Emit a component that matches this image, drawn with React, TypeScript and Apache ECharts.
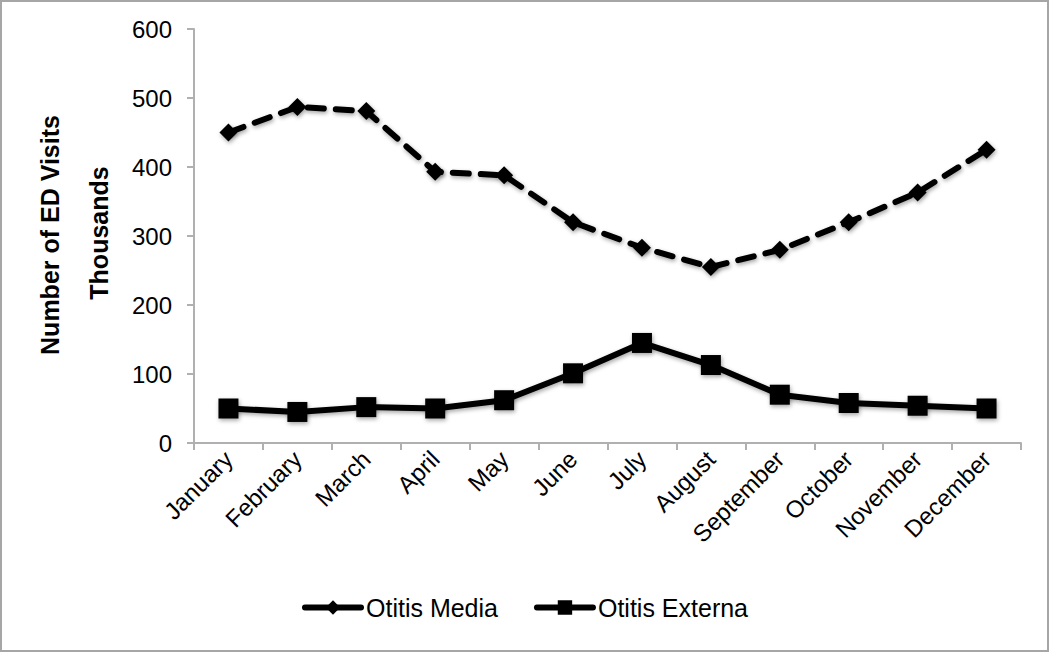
import React, { useEffect, useRef } from "react";
import * as echarts from "echarts";

const months = ["January", "February", "March", "April", "May", "June", "July", "August", "September", "October", "November", "December"];
const otitisMedia = [450, 487, 481, 393, 388, 320, 283, 255, 280, 320, 363, 425];
const otitisExterna = [50, 45, 52, 50, 62, 101, 145, 113, 70, 58, 54, 50];
const yTicks = { min: 0, max: 600, interval: 100 };

export default function App() {
  const ref = useRef<HTMLDivElement>(null);
  useEffect(() => {
    if (!ref.current) return;
    const chart = echarts.init(ref.current, null, { renderer: "svg" });
    const font = "'Liberation Sans', Arial, sans-serif";
    const shadow = { shadowBlur: 4, shadowColor: "rgba(0,0,0,0.35)", shadowOffsetX: 1, shadowOffsetY: 2 };
    chart.setOption({
      animation: false,
      backgroundColor: "#fff",
      textStyle: { fontFamily: font },
      grid: { left: 194, right: 29, top: 29, bottom: 210, containLabel: false },
      graphic: [
        { type: "rect", shape: { x: 1, y: 1, width: 1047, height: 650 }, style: { fill: "none", stroke: "#a6a6a6", lineWidth: 2 } },
        { type: "text", x: 50, y: 235, rotation: Math.PI / 2, style: { text: "Number of ED Visits", font: `bold 25px ${font}`, fill: "#000", align: "center", verticalAlign: "middle" } },
        { type: "text", x: 99, y: 233, rotation: Math.PI / 2, style: { text: "Thousands", font: `bold 25px ${font}`, fill: "#000", align: "center", verticalAlign: "middle" } },
      ],
      legend: {
        bottom: 28,
        left: "center",
        itemWidth: 56,
        itemHeight: 18,
        itemGap: 36,
        textStyle: { fontSize: 25, color: "#000", fontFamily: font },
        data: [
          { name: "Otitis Media", lineStyle: { type: "solid", width: 6, cap: "round", color: "#000" } },
          { name: "Otitis Externa", lineStyle: { type: "solid", width: 6, cap: "round", color: "#000" } },
        ],
      },
      xAxis: {
        type: "category",
        data: months,
        boundaryGap: true,
        axisLine: { lineStyle: { color: "#b0b0b0", width: 2 } },
        axisTick: { show: true, length: 7, lineStyle: { color: "#b0b0b0", width: 2 } },
        axisLabel: { rotate: 45, fontSize: 24, color: "#000", margin: 12, interval: 0, fontFamily: font },
        splitLine: { show: false },
      },
      yAxis: {
        type: "value",
        min: yTicks.min,
        max: yTicks.max,
        interval: yTicks.interval,
        axisLine: { show: true, lineStyle: { color: "#b0b0b0", width: 2 } },
        axisTick: { show: true, length: 7, lineStyle: { color: "#b0b0b0", width: 2 } },
        axisLabel: { fontSize: 24, color: "#000", margin: 22, fontFamily: font },
        splitLine: { show: false },
      },
      series: [
        {
          name: "Otitis Media",
          type: "line",
          data: otitisMedia,
          symbol: "diamond",
          symbolSize: 18,
          lineStyle: { color: "#000", width: 6, type: [16, 12], cap: "round", ...shadow },
          itemStyle: { color: "#000", ...shadow },
        },
        {
          name: "Otitis Externa",
          type: "line",
          data: otitisExterna,
          symbol: "rect",
          symbolSize: 20,
          lineStyle: { color: "#000", width: 6, ...shadow },
          itemStyle: { color: "#000", ...shadow },
        },
      ],
    });
    return () => chart.dispose();
  }, []);
  return <div ref={ref} style={{ position: "fixed", left: 0, top: 0, width: 1050, height: 653 }} />;
}
